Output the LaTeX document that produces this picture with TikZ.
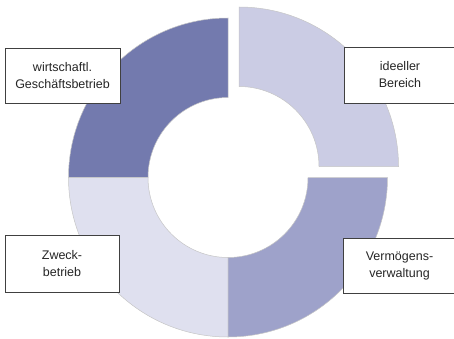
\documentclass[tikz,border=0pt]{standalone}
\usepackage{fontspec}
\setmainfont{Liberation Sans}
\usepackage{tikz}
\usetikzlibrary{calc}
\definecolor{sektorA}{RGB}{115,122,174}
\definecolor{sektorB}{RGB}{203,204,228}
\definecolor{sektorC}{RGB}{158,162,202}
\definecolor{sektorD}{RGB}{223,224,239}
\tikzset{
         sektor/.style={draw=gray!45,line width=0.5pt},
         labelbox/.style={draw=black!75,line width=0.8pt,fill=white,align=center,
          text=black!85,inner sep=0pt,font=\fontsize{12.5}{17}\selectfont}
        }

\begin{document}
\begin{tikzpicture}[x=1pt,y=1pt]
\useasboundingbox(0,0)rectangle(454,338);
\clip(0,0)rectangle(454,338);
%ring segments
\begin{scope}[shift={(228,160.5)}]
\filldraw[sektor,fill=sektorA](90:159.5)arc(90:180:159.5)--(180:80)arc(180:90:80)--cycle;
\filldraw[sektor,fill=sektorD](180:159.5)arc(180:270:159.5)--(270:80)arc(270:180:80)--cycle;
\filldraw[sektor,fill=sektorC](270:159.5)arc(270:360:159.5)--(0:80)arc(0:-90:80)--cycle;
\filldraw[sektor,fill=sektorB,shift={(11,11)}](0:159.5)arc(0:90:159.5)--(90:80)arc(90:0:80)--cycle; % pulled out
\end{scope}
%labels
\node[labelbox,minimum width=115,minimum height=55](wb)at(62.5,262.5){wirtschaftl.\\Gesch\"aftsbetrieb};
\node[labelbox,minimum width=112,minimum height=56](ib)at(400,263){ideeller\\Bereich};
\node[labelbox,minimum width=114,minimum height=57](zb)at(62,74.5){Zweck-\\betrieb};
\node[labelbox,minimum width=113,minimum height=55](vv)at(399.5,72.5){Verm\"ogens-\\verwaltung};

\end{tikzpicture}
\end{document}
